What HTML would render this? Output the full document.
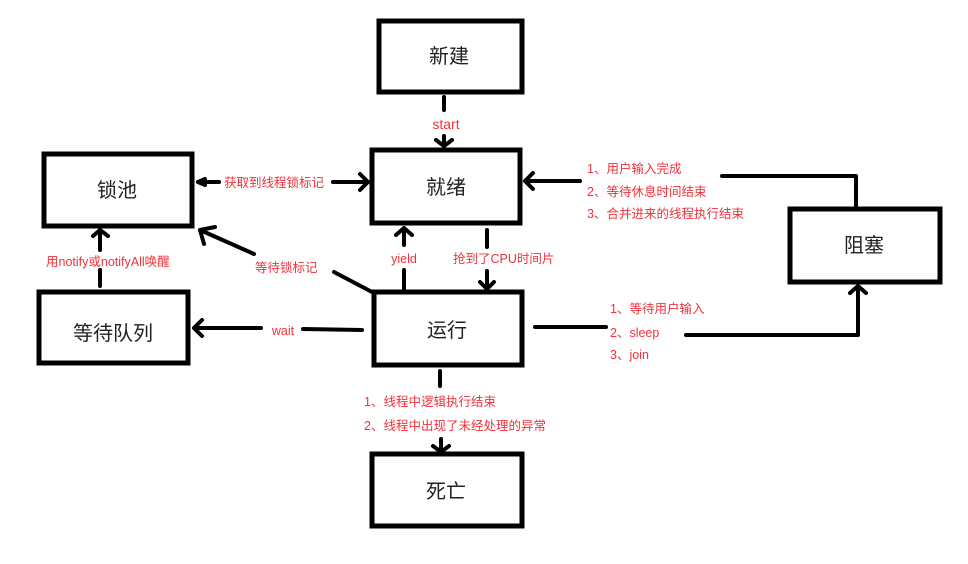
<!DOCTYPE html>
<html><head><meta charset="utf-8"><style>
html,body{margin:0;padding:0;background:#fff;}
svg{display:block;}
.b{fill:#fff;stroke:#000;stroke-width:5;}
.l{fill:none;stroke:#000;stroke-width:4;stroke-linecap:round;stroke-linejoin:round;}
.t{font-family:"Liberation Sans","Noto Sans CJK SC",sans-serif;font-size:20px;fill:#222;text-anchor:middle;}
.r{font-family:"Liberation Sans","Noto Sans CJK SC",sans-serif;font-size:12.5px;fill:#f0323c;}
.rc{text-anchor:middle;}
</style></head><body>
<svg width="968" height="564" viewBox="0 0 968 564" xmlns="http://www.w3.org/2000/svg">
<rect class="b" x="379" y="21" width="143" height="71"/>
<rect class="b" x="372" y="150" width="148" height="73"/>
<rect class="b" x="44" y="154" width="148" height="72"/>
<rect class="b" x="39" y="292" width="149" height="71"/>
<rect class="b" x="374" y="292" width="148" height="73"/>
<rect class="b" x="790" y="209" width="150" height="73"/>
<rect class="b" x="372" y="454" width="150" height="72"/>
<text class="t" x="449" y="63">新建</text>
<text class="t" x="446" y="194">就绪</text>
<text class="t" x="117" y="197">锁池</text>
<text class="t" x="113" y="340">等待队列</text>
<text class="t" x="447" y="337">运行</text>
<text class="t" x="864" y="252">阻塞</text>
<text class="t" x="446" y="498">死亡</text>

<!-- start -->
<path class="l" d="M444 97 V110 M444 136 V146 M436 140 L444 146 L452 140"/>
<text class="r rc" x="446" y="129" style="font-size:14px">start</text>
<!-- 获取到线程锁标记 -->
<path class="l" d="M198 182 H219 M333 182 H368 M360 174 L368 182 L360 190 M205 179 L198 182 L205 185"/>
<text class="r" x="224" y="187">获取到线程锁标记</text>
<!-- 等待锁标记 -->
<path class="l" d="M372 292 L334 272 M254 254 L200 230 M215 227 L200 230 L204 244"/>
<text class="r" x="255" y="272">等待锁标记</text>
<!-- yield -->
<path class="l" d="M404 289 V270 M404 245 V228 M396 235 L404 228 L412 235"/>
<text class="r rc" x="404" y="263">yield</text>
<!-- 抢到 -->
<path class="l" d="M487 230 V247 M487 271 V289 M480 282 L487 289 L494 282"/>
<text class="r" x="453" y="263">抢到了CPU时间片</text>
<!-- wait -->
<path class="l" d="M362 330 L303 329 M261 328 H194 M202 320 L194 328 L202 336"/>
<text class="r rc" x="283" y="335">wait</text>
<!-- notify -->
<path class="l" d="M100 286 V270 M100 250 V230 M93 236 L100 230 L108 236"/>
<text class="r" x="46" y="266">用notify或notifyAll唤醒</text>
<!-- 运行 -> 阻塞 -->
<path class="l" d="M535 327 H606 M686 335 H858 V286 M850 293 L858 286 L866 293"/>
<text class="r" x="610" y="313">1、等待用户输入</text>
<text class="r" x="610" y="337">2、sleep</text>
<text class="r" x="610" y="359">3、join</text>
<!-- 阻塞 -> 就绪 -->
<path class="l" d="M856 207 V176 H722 M580 181 H525 M533 173 L525 181 L533 189"/>
<text class="r" x="587" y="173">1、用户输入完成</text>
<text class="r" x="587" y="196">2、等待休息时间结束</text>
<text class="r" x="587" y="218">3、合并进来的线程执行结束</text>
<!-- 运行 -> 死亡 -->
<path class="l" d="M440 371 V386 M441 439 V452 M433 446 L441 452 L449 446"/>
<text class="r" x="364" y="406">1、线程中逻辑执行结束</text>
<text class="r" x="364" y="430">2、线程中出现了未经处理的异常</text>
</svg>
</body></html>
